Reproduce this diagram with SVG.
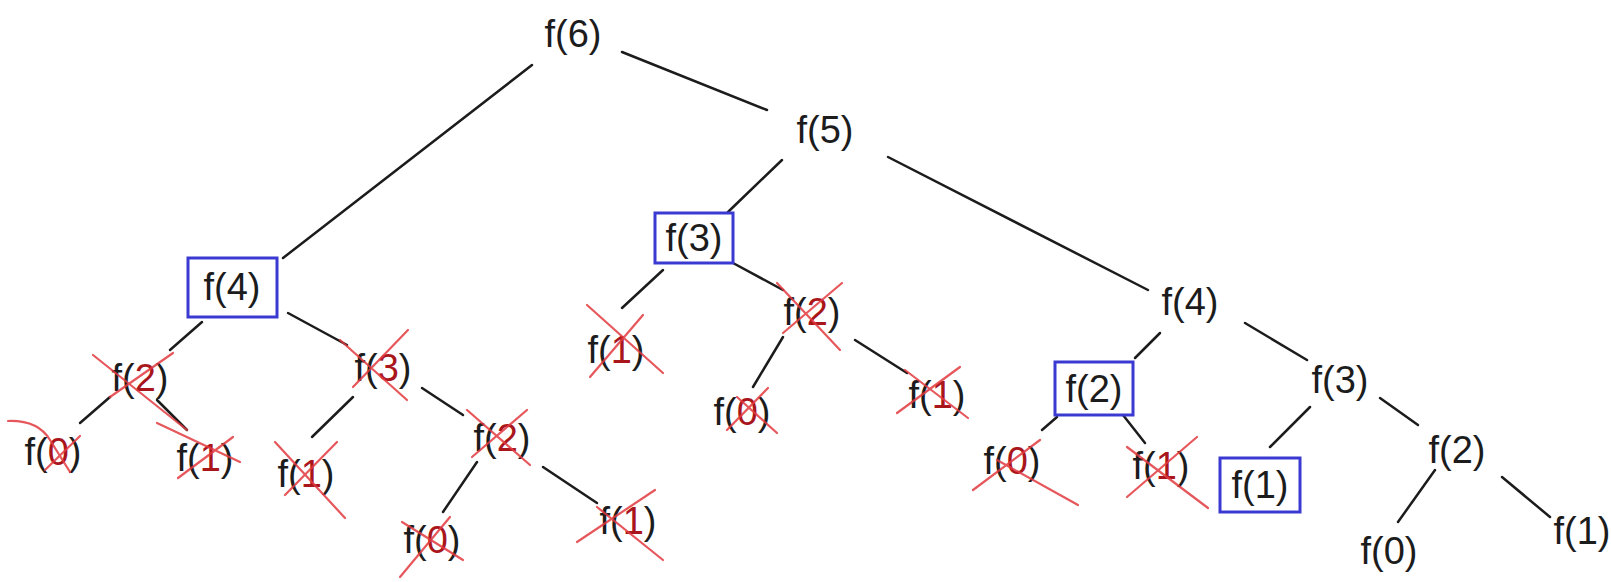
<svg xmlns="http://www.w3.org/2000/svg" width="1611" height="582" viewBox="0 0 1611 582">
<style>
.lbl{font-family:"Liberation Sans",Arial,sans-serif;font-size:38px;fill:#1c1c1c;text-anchor:middle}
.d{fill:#a8161c}
.box{fill:none;stroke:#3a3ad2;stroke-width:3}
.edge{stroke:#1c1c1c;stroke-width:2.5;stroke-linecap:round;fill:none}
.x{stroke:#e23a40;stroke-width:2.2;stroke-linecap:round;fill:none;opacity:0.85}
</style>
<rect width="1611" height="582" fill="#ffffff"/>
<g id="connectors">
<line class="edge" x1="532" y1="65" x2="283" y2="258"/>
<line class="edge" x1="622" y1="52" x2="767" y2="110"/>
<line class="edge" x1="782" y1="160" x2="728" y2="212"/>
<line class="edge" x1="888" y1="157" x2="1148" y2="290"/>
<line class="edge" x1="202" y1="322" x2="170" y2="350"/>
<line class="edge" x1="288" y1="313" x2="347" y2="345"/>
<line class="edge" x1="110" y1="397" x2="80" y2="423"/>
<line class="edge" x1="157" y1="400" x2="187" y2="430"/>
<line class="edge" x1="353" y1="397" x2="312" y2="437"/>
<line class="edge" x1="422" y1="388" x2="463" y2="415"/>
<line class="edge" x1="477" y1="462" x2="443" y2="512"/>
<line class="edge" x1="543" y1="467" x2="597" y2="503"/>
<line class="edge" x1="663" y1="270" x2="622" y2="308"/>
<line class="edge" x1="733" y1="263" x2="783" y2="290"/>
<line class="edge" x1="783" y1="337" x2="753" y2="387"/>
<line class="edge" x1="855" y1="340" x2="907" y2="373"/>
<line class="edge" x1="1160" y1="333" x2="1135" y2="358"/>
<line class="edge" x1="1245" y1="323" x2="1307" y2="360"/>
<line class="edge" x1="1057" y1="417" x2="1042" y2="430"/>
<line class="edge" x1="1123" y1="415" x2="1145" y2="443"/>
<line class="edge" x1="1310" y1="407" x2="1270" y2="447"/>
<line class="edge" x1="1380" y1="398" x2="1418" y2="425"/>
<line class="edge" x1="1435" y1="470" x2="1398" y2="522"/>
<line class="edge" x1="1502" y1="477" x2="1550" y2="517"/>
</g>
<g id="n_f6"><text class="lbl" x="573" y="47">f(6)</text></g>
<g id="n_f5"><text class="lbl" x="825" y="143">f(5)</text></g>
<g id="n_f4_left"><rect class="box" x="188" y="258" width="89" height="59"/><text class="lbl" x="232" y="300">f(4)</text></g>
<g id="n_f3_box"><rect class="box" x="655" y="213" width="78" height="50"/><text class="lbl" x="694" y="251">f(3)</text></g>
<g id="n_f4_right"><text class="lbl" x="1190" y="315">f(4)</text></g>
<g id="n_f2_a"><text class="lbl" x="140" y="391">f(<tspan class="d">2</tspan>)</text><path class="x" d="M93,355L187,430M173,353L110,397"/></g>
<g id="n_f3_a"><text class="lbl" x="383" y="381">f(<tspan class="d">3</tspan>)</text><path class="x" d="M340,340L407,400M408,330L353,387"/></g>
<g id="n_f0_a"><text class="lbl" x="53" y="465">f(<tspan class="d">0</tspan>)</text><path class="x" d="M8,421Q38,420 50,440L70,472M80,436L45,470"/></g>
<g id="n_f1_a"><text class="lbl" x="205" y="471">f(<tspan class="d">1</tspan>)</text><path class="x" d="M157,423L240,462M233,437L178,478"/></g>
<g id="n_f1_b"><text class="lbl" x="306" y="487">f(<tspan class="d">1</tspan>)</text><path class="x" d="M275,442L345,518M337,442L285,495"/></g>
<g id="n_f2_b"><text class="lbl" x="502" y="451">f(<tspan class="d">2</tspan>)</text><path class="x" d="M467,410L530,465M527,410L472,457"/></g>
<g id="n_f0_b"><text class="lbl" x="432" y="553">f(<tspan class="d">0</tspan>)</text><path class="x" d="M402,522L463,560M450,517L400,577"/></g>
<g id="n_f1_c"><text class="lbl" x="628" y="534">f(<tspan class="d">1</tspan>)</text><path class="x" d="M597,507L663,560M655,490L577,542"/></g>
<g id="n_f1_d"><text class="lbl" x="616" y="363">f(<tspan class="d">1</tspan>)</text><path class="x" d="M587,305L663,373M643,315L590,377"/></g>
<g id="n_f2_c"><text class="lbl" x="812" y="325">f(<tspan class="d">2</tspan>)</text><path class="x" d="M777,283L840,350M842,283L783,333"/></g>
<g id="n_f0_c"><text class="lbl" x="742" y="425">f(<tspan class="d">0</tspan>)</text><path class="x" d="M737,397L777,433M768,388L727,430"/></g>
<g id="n_f1_e"><text class="lbl" x="937" y="408">f(<tspan class="d">1</tspan>)</text><path class="x" d="M905,370L968,418M960,367L897,413"/></g>
<g id="n_f2_box"><rect class="box" x="1055" y="362" width="78" height="53"/><text class="lbl" x="1094" y="402">f(2)</text></g>
<g id="n_f3_right"><text class="lbl" x="1340" y="393">f(3)</text></g>
<g id="n_f0_d"><text class="lbl" x="1012" y="474">f(<tspan class="d">0</tspan>)</text><path class="x" d="M997,460L1078,505M1040,440L973,490"/></g>
<g id="n_f1_f"><text class="lbl" x="1161" y="479">f(<tspan class="d">1</tspan>)</text><path class="x" d="M1127,447L1208,508M1197,437L1127,497"/></g>
<g id="n_f1_box"><rect class="box" x="1220" y="458" width="80" height="54"/><text class="lbl" x="1260" y="498">f(1)</text></g>
<g id="n_f2_right"><text class="lbl" x="1457" y="463">f(2)</text></g>
<g id="n_f0_right"><text class="lbl" x="1389" y="564">f(0)</text></g>
<g id="n_f1_right"><text class="lbl" x="1582" y="544">f(1)</text></g>
</svg>
